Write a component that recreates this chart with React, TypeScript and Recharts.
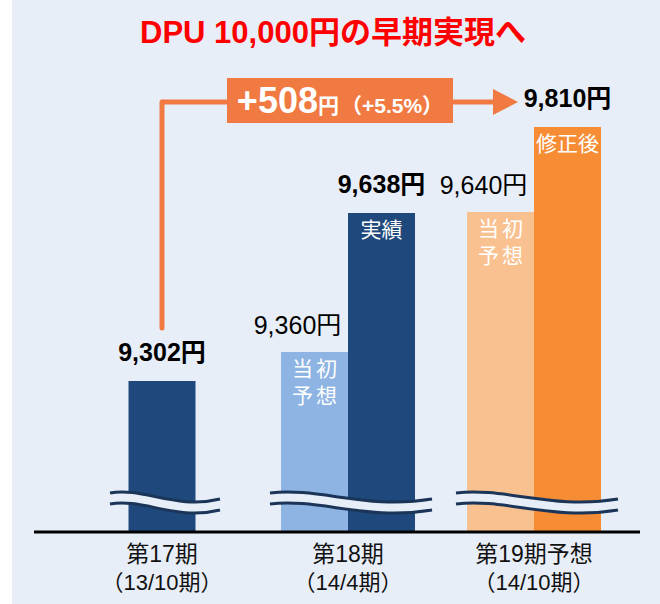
import React from "react";
import { Bar, BarChart, ReferenceLine, XAxis, YAxis } from "recharts";

const categories = ["第17期", "第18期", "第19期予想"];
const periods = ["（13/10期）", "（14/4期）", "（14/10期）"];
const forecastDpu: (number | null)[] = [null, 9360, 9640];
const resultDpu = [9302, 9638, 9810];
const forecastNotes = [[], ["当初", "予想"], ["当初", "予想"]];
const resultNotes = [[], ["実績"], ["修正後"]];

const growth = resultDpu[2] - resultDpu[0];
const growthPct = ((growth / resultDpu[0]) * 100).toFixed(1);

// where the orange arrow runs, in yen on the value axis
const ARROW_LOW = 9408;
const ARROW_HIGH = 9860;

const BG = "#e8eef7";
const NAVY = "#1f497d";
const LIGHT_BLUE = "#8eb4e3";
const ORANGE = "#f68d35";
const LIGHT_ORANGE = "#f9c190";
const ARROW = "#f07a42";
const WAVE = "#1a3558";

const forecastColors = [LIGHT_BLUE, LIGHT_BLUE, LIGHT_ORANGE];
const resultColors = [NAVY, NAVY, ORANGE];

const FONT = '"Liberation Sans", "Noto Sans CJK JP", sans-serif';

const data = categories.map((name, i) => ({
  name,
  forecast: forecastDpu[i],
  result: resultDpu[i],
}));

const yen = (v: number) => `${v.toLocaleString("en-US")}円`;

function ForecastBar(props: any) {
  const { x, y, width, height, payload } = props;
  const i = categories.indexOf(payload?.name);
  if (i < 0 || forecastDpu[i] == null) return <g />;
  const cx = x + width / 2;
  return (
    <g>
      <rect x={x} y={y} width={width} height={height} fill={forecastColors[i]} />
      <text x={cx - 17} y={y - 18} textAnchor="middle" fontSize={25} fill="#000">
        {yen(forecastDpu[i] as number)}
      </text>
      {forecastNotes[i].map((t, k) => (
        <text key={k} x={cx + 1.5} y={y + 24 + k * 27} textAnchor="middle" fontSize={21} fill="#fff" letterSpacing={3}>
          {t}
        </text>
      ))}
    </g>
  );
}

function ResultBar(props: any) {
  const { y, width, height, payload } = props;
  const i = categories.indexOf(payload?.name);
  if (i < 0) return <g />;
  // 第17期 has no forecast bar, so its bar sits in the middle of the slot
  const single = forecastDpu[i] == null;
  const x = single ? props.x - width / 2 : props.x;
  const cx = x + width / 2;
  const groupCx = single ? cx : x;
  const half = single ? 55 : 81;
  const x0 = groupCx + 3 - half;
  const x1 = groupCx + 3 + half;
  const w = x1 - x0;
  const yc = y + height - 30;
  const up = [-9, -15, 8, -3].map((d) => yc + d);
  const lo = up.map((v) => v + 11);
  const upper = `M${x0},${up[0]} C${x0 + 0.3 * w},${up[1]} ${x0 + 0.6 * w},${up[2]} ${x1},${up[3]}`;
  const lower = `M${x0},${lo[0]} C${x0 + 0.3 * w},${lo[1]} ${x0 + 0.6 * w},${lo[2]} ${x1},${lo[3]}`;
  const gap = `${upper} L${x1},${lo[3]} C${x0 + 0.6 * w},${lo[2]} ${x0 + 0.3 * w},${lo[1]} ${x0},${lo[0]} Z`;
  return (
    <g>
      <rect x={x} y={y} width={width} height={height} fill={resultColors[i]} />
      <text x={cx} y={y - 20} textAnchor="middle" fontSize={25} fontWeight={700} fill="#000">
        {yen(resultDpu[i])}
      </text>
      {resultNotes[i].map((t, k) => (
        <text key={k} x={cx} y={y + 24 + k * 27} textAnchor="middle" fontSize={21} fill="#fff">
          {t}
        </text>
      ))}
      <path d={gap} fill={BG} />
      <path d={upper} fill="none" stroke={WAVE} strokeWidth={3} />
      <path d={lower} fill="none" stroke={WAVE} strokeWidth={3} />
    </g>
  );
}

function GrowthArrow(props: any) {
  const { x1, y1, x2 } = props;
  const tip = x2 - 16;
  const mid = (x1 + tip) / 2;
  return (
    <g>
      <line x1={x1} y1={y1} x2={tip - 20} y2={y1} stroke={ARROW} strokeWidth={5} />
      <polygon points={`${tip - 25},${y1 - 13} ${tip},${y1} ${tip - 25},${y1 + 13}`} fill={ARROW} />
      <rect x={mid - 113} y={y1 - 24} width={226} height={45} fill={ARROW} />
      <text x={mid} y={y1 + 11} textAnchor="middle" fill="#fff" fontWeight={700}>
        <tspan fontSize={36}>+{growth}</tspan>
        <tspan fontSize={21}>円</tspan>
        <tspan fontSize={21} dx={2}>（+{growthPct}%）</tspan>
      </text>
    </g>
  );
}

function CategoryTick(props: any) {
  const { x, y, payload } = props;
  const i = categories.indexOf(payload.value);
  return (
    <g>
      <text x={x} y={y + 22} textAnchor="middle" fontSize={23} fill="#111">
        {payload.value}
      </text>
      <text x={x} y={y + 50} textAnchor="middle" fontSize={22} fill="#111">
        {periods[i]}
      </text>
    </g>
  );
}

export default function App() {
  return (
    <div style={{ position: "absolute", left: 0, top: 0, width: 660, height: 604, background: "#fff", fontFamily: FONT }}>
      <div style={{ position: "absolute", left: 12, top: 0, width: 648, height: 604, background: BG }} />
      <div
        style={{
          position: "absolute",
          left: 0,
          top: 17,
          width: 666,
          textAlign: "center",
          fontSize: 31,
          lineHeight: "31px",
          fontWeight: 700,
          color: "#ff0000",
        }}
      >
        DPU 10,000円の早期実現へ
      </div>
      <div style={{ position: "absolute", left: 0, top: 0 }}>
        <BarChart width={660} height={604} data={data} margin={{ top: 82, right: 20, bottom: 0, left: 34 }} barGap={0}>
          <XAxis
            dataKey="name"
            height={72}
            padding={{ left: 35, right: 13 }}
            tickLine={false}
            axisLine={{ stroke: "#000", strokeWidth: 3 }}
            interval={0}
            tick={CategoryTick}
          />
          <YAxis hide type="number" domain={[9000, 9900]} allowDataOverflow />
          <Bar dataKey="forecast" barSize={67} shape={ForecastBar} isAnimationActive={false} />
          <Bar dataKey="result" barSize={67} shape={ResultBar} isAnimationActive={false} />
          <ReferenceLine
            segment={[
              { x: categories[0], y: ARROW_LOW },
              { x: categories[0], y: ARROW_HIGH },
            ]}
            stroke={ARROW}
            strokeWidth={5}
            strokeLinecap="round"
          />
          <ReferenceLine
            segment={[
              { x: categories[0], y: ARROW_HIGH },
              { x: categories[2], y: ARROW_HIGH },
            ]}
            shape={GrowthArrow}
          />
        </BarChart>
      </div>
    </div>
  );
}
